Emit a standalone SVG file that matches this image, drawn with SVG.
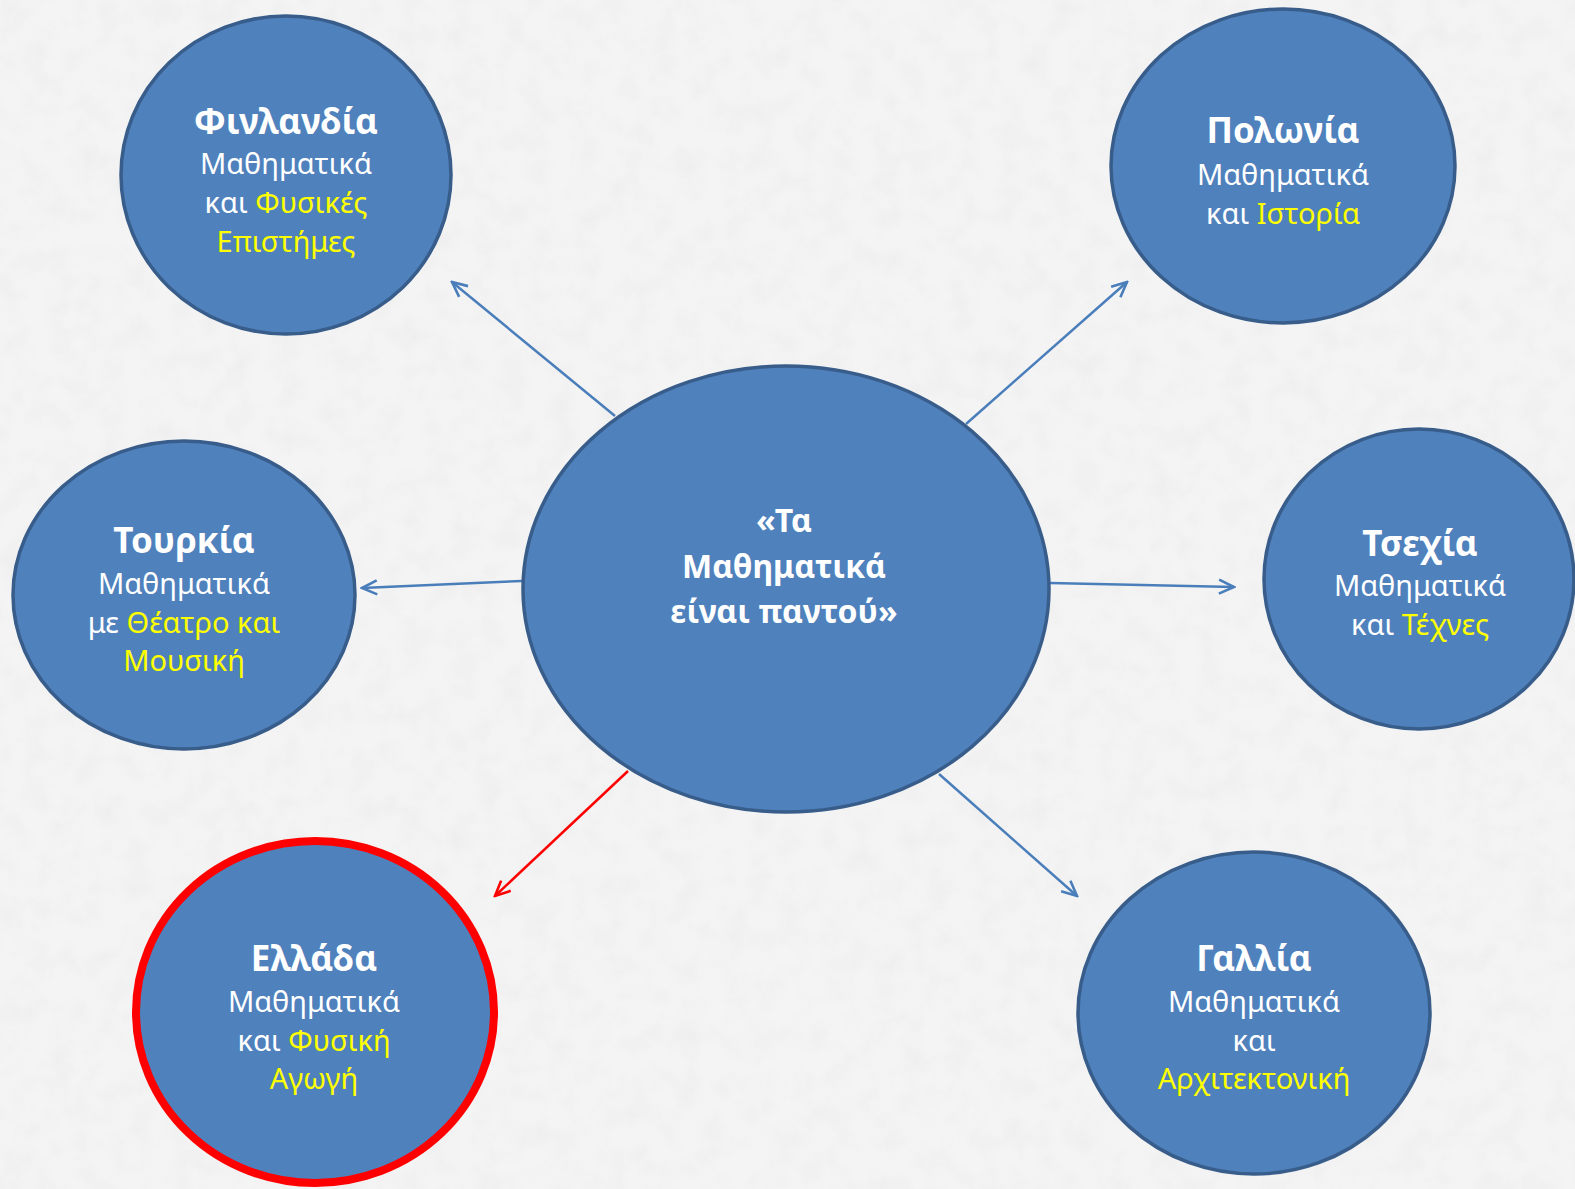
<svg xmlns="http://www.w3.org/2000/svg" width="1575" height="1189" viewBox="0 0 1575 1189">
<defs>
<filter id="tex" x="0" y="0" width="100%" height="100%">
<feTurbulence type="fractalNoise" baseFrequency="0.04" numOctaves="3" seed="4"/>
<feColorMatrix type="matrix" values="0 0 0 0 0.84  0 0 0 0 0.84  0 0 0 0 0.84  0 0 0 -1.8 1.1"/>
</filter>
<marker id="ab" viewBox="0 0 20 20" refX="18" refY="10" markerWidth="20" markerHeight="20" markerUnits="userSpaceOnUse" orient="auto">
<path d="M3,3 L18,10 L3,17" fill="none" stroke="#4a7ebb" stroke-width="2.6"/>
</marker>
<marker id="ar" viewBox="0 0 20 20" refX="18" refY="10" markerWidth="20" markerHeight="20" markerUnits="userSpaceOnUse" orient="auto">
<path d="M3,3 L18,10 L3,17" fill="none" stroke="#ff0000" stroke-width="2.6"/>
</marker>
</defs>
<style>
.n{fill:#4f81bd;stroke:#385d8a;stroke-width:3.5}
.t{font-family:"Noto Sans","DejaVu Sans",sans-serif;text-anchor:middle;fill:#ffffff}
.h{font-size:35px;font-weight:bold}
.l{font-size:29px}
.c{font-size:32px;font-weight:bold}
.y{fill:#ffff00}
.e{stroke:#4a7ebb;stroke-width:2.5;fill:none;marker-end:url(#ab)}
.r{stroke:#ff0000;stroke-width:2.5;fill:none;marker-end:url(#ar)}
</style>
<rect width="1575" height="1189" fill="#f4f4f4"/>
<rect width="1575" height="1189" filter="url(#tex)" opacity="0.7"/>
<g id="connectors">
<line class="e" x1="615" y1="416" x2="452" y2="282"/>
<line class="e" x1="966" y1="424" x2="1127" y2="282"/>
<line class="e" x1="522" y1="581" x2="362" y2="588"/>
<line class="e" x1="1050" y1="583" x2="1234" y2="587"/>
<line class="r" x1="628" y1="771" x2="495" y2="896"/>
<line class="e" x1="939" y1="774" x2="1077" y2="896"/>
</g>
<g id="center">
<ellipse class="n" cx="786" cy="589" rx="263" ry="223"/>
<text class="t c"><tspan x="784" y="532">«Τα</tspan><tspan x="784" y="578">Μαθηματικά</tspan><tspan x="784" y="623">είναι παντού»</tspan></text>
</g>
<g id="finland">
<ellipse class="n" cx="286" cy="175" rx="165" ry="159"/>
<text class="t"><tspan class="h" x="286" y="134">Φινλανδία</tspan><tspan class="l" x="286" y="174">Μαθηματικά</tspan><tspan class="l" x="286" y="213">και <tspan class="y">Φυσικές</tspan></tspan><tspan class="l y" x="286" y="252">Επιστήμες</tspan></text>
</g>
<g id="poland">
<ellipse class="n" cx="1283" cy="166" rx="172" ry="157"/>
<text class="t"><tspan class="h" x="1283" y="143">Πολωνία</tspan><tspan class="l" x="1283" y="185">Μαθηματικά</tspan><tspan class="l" x="1283" y="224">και <tspan class="y">Ιστορία</tspan></tspan></text>
</g>
<g id="turkey">
<ellipse class="n" cx="184" cy="595" rx="171" ry="154"/>
<text class="t"><tspan class="h" x="184" y="553">Τουρκία</tspan><tspan class="l" x="184" y="594">Μαθηματικά</tspan><tspan class="l" x="184" y="633">με <tspan class="y">Θέατρο και</tspan></tspan><tspan class="l y" x="184" y="671">Μουσική</tspan></text>
</g>
<g id="czech">
<ellipse class="n" cx="1419" cy="579" rx="155" ry="150"/>
<text class="t"><tspan class="h" x="1420" y="556">Τσεχία</tspan><tspan class="l" x="1420" y="596">Μαθηματικά</tspan><tspan class="l" x="1420" y="635">και <tspan class="y">Τέχνες</tspan></tspan></text>
</g>
<g id="greece">
<ellipse cx="315" cy="1012" rx="179" ry="171" fill="#4f81bd" stroke="#ff0000" stroke-width="8"/>
<text class="t"><tspan class="h" x="314" y="971">Ελλάδα</tspan><tspan class="l" x="314" y="1012">Μαθηματικά</tspan><tspan class="l" x="314" y="1051">και <tspan class="y">Φυσική</tspan></tspan><tspan class="l y" x="314" y="1089">Αγωγή</tspan></text>
</g>
<g id="france">
<ellipse class="n" cx="1254" cy="1013" rx="176" ry="161"/>
<text class="t"><tspan class="h" x="1254" y="971">Γαλλία</tspan><tspan class="l" x="1254" y="1012">Μαθηματικά</tspan><tspan class="l" x="1254" y="1051">και</tspan><tspan class="l y" x="1254" y="1089">Αρχιτεκτονική</tspan></text>
</g>
</svg>
